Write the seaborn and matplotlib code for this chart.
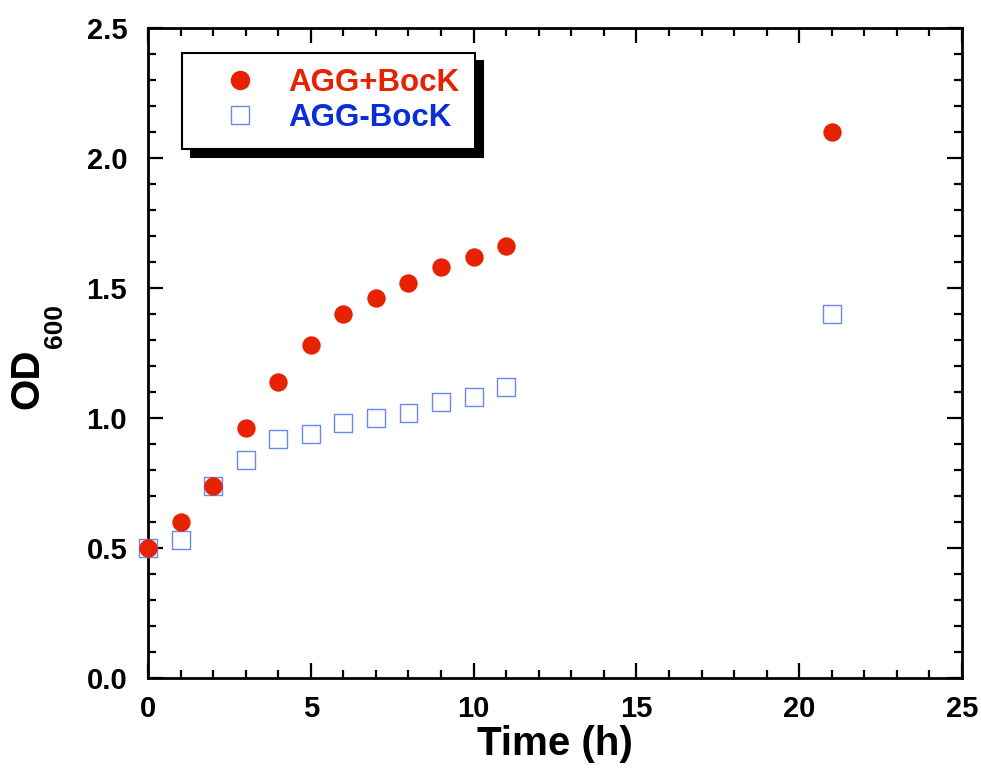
import matplotlib
matplotlib.use("Agg")
import matplotlib.pyplot as plt
import seaborn as sns
import pandas as pd
from matplotlib.ticker import MultipleLocator, FormatStrFormatter
from matplotlib.lines import Line2D

time_h = [0, 1, 2, 3, 4, 5, 6, 7, 8, 9, 10, 11, 21]
od_plus = [0.50, 0.60, 0.74, 0.96, 1.14, 1.28, 1.40, 1.46, 1.52, 1.58, 1.62, 1.66, 2.10]
od_minus = [0.50, 0.53, 0.74, 0.84, 0.92, 0.94, 0.98, 1.00, 1.02, 1.06, 1.08, 1.12, 1.40]
labels = ["AGG+BocK", "AGG-BocK"]

red = "#e62200"
blue_edge = "#6b86ec"
blue_text = "#0a2fd6"

sns.set_theme(style="ticks")
plt.rcParams["font.family"] = ["Liberation Sans", "DejaVu Sans"]
plt.rcParams["font.weight"] = "bold"
for k in ["text.color", "axes.labelcolor", "xtick.color", "ytick.color", "axes.edgecolor"]:
    plt.rcParams[k] = "black"

df_plus = pd.DataFrame({"t": time_h, "od": od_plus})
df_minus = pd.DataFrame({"t": time_h, "od": od_minus})

fig = plt.figure(figsize=(9.81, 7.71), dpi=100)
ax = fig.add_axes([0.1509, 0.1206, 0.8297, 0.8431])

sns.scatterplot(data=df_minus, x="t", y="od", marker="s", s=165,
                facecolors="none", edgecolor=blue_edge, linewidth=1.0, ax=ax,
                zorder=3, clip_on=False)
sns.scatterplot(data=df_plus, x="t", y="od", marker="o", s=175,
                color=red, edgecolor=red, linewidth=0, ax=ax, zorder=4, clip_on=False)

ax.set_xlim(0, 25)
ax.set_ylim(0, 2.5)
ax.xaxis.set_major_locator(MultipleLocator(5))
ax.xaxis.set_minor_locator(MultipleLocator(1))
ax.yaxis.set_major_locator(MultipleLocator(0.5))
ax.yaxis.set_minor_locator(MultipleLocator(0.1))
ax.yaxis.set_major_formatter(FormatStrFormatter("%.1f"))

for sp in ax.spines.values():
    sp.set_visible(True)
    sp.set_linewidth(2.0)
    sp.set_color("black")
ax.tick_params(which="both", direction="in", top=True, right=True, color="black")
ax.tick_params(which="major", length=10.5, width=1.6, labelsize=21)
ax.tick_params(axis="x", which="major", pad=12)
ax.tick_params(axis="y", which="major", pad=15)
ax.tick_params(which="minor", length=5.8, width=1.6)
for lab in ax.get_xticklabels() + ax.get_yticklabels():
    lab.set_fontweight("bold")

ax.set_xlabel("Time (h)", fontsize=29, fontweight="bold", labelpad=2)
ax.set_ylabel("OD", fontsize=29, fontweight="bold")
ax.yaxis.set_label_coords(-0.125, 0.461)
ax.text(-0.114, 0.5415, "600", transform=ax.transAxes, rotation=90,
        ha="center", va="center", fontsize=19, fontweight="bold")

handles = [
    Line2D([], [], marker="o", linestyle="none", markersize=13, markerfacecolor=red, markeredgecolor=red),
    Line2D([], [], marker="s", linestyle="none", markersize=13, markerfacecolor="none",
           markeredgecolor=blue_edge, markeredgewidth=1.0),
]
leg = ax.legend(handles, labels, loc="upper left", bbox_to_anchor=(0.042, 0.962),
                borderaxespad=0, frameon=True, fancybox=False,
                shadow={"color": "black", "alpha": 1.0, "ox": 6, "oy": -6},
                prop={"size": 22.5, "weight": "bold"}, handletextpad=0.2,
                borderpad=0.5, labelspacing=0.15, handlelength=2.68)
leg.get_frame().set_edgecolor("black")
leg.get_frame().set_linewidth(1.5)
leg.get_texts()[0].set_color(red)
leg.get_texts()[1].set_color(blue_text)

fig.savefig("out.png", dpi=100)
